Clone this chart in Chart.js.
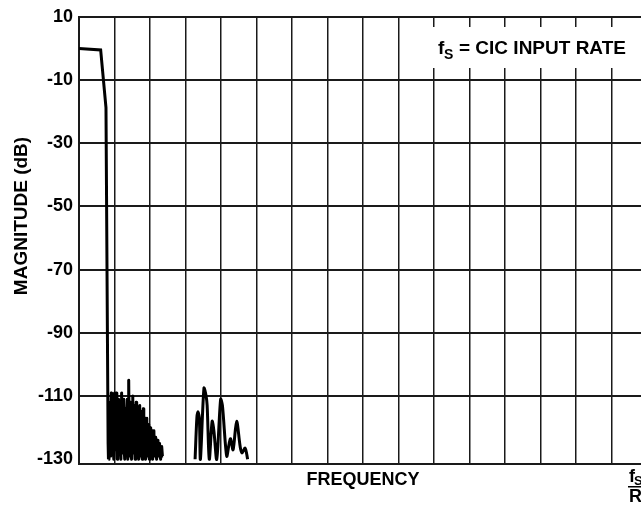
<!DOCTYPE html>
<html>
<head>
<meta charset="utf-8">
<title>CIC Filter Response</title>
<script src="https://cdn.jsdelivr.net/npm/chart.js@4.4.1/dist/chart.umd.min.js"></script>
<style>
    html, body { margin: 0; padding: 0; background: #fff; overflow: hidden; }
    #cicChart { display: block; }
</style>
</head>
<body>
<canvas id="cicChart" width="660" height="508"></canvas>
<script>
// ==================== Data ====================

// Frequency in grid divisions (0..16), magnitude in dB
const passbandFreq = [0.00, 0.61, 0.76, 0.82, 0.83];
const passbandMag = [0.0, -0.5, -18.7, -125, -130];

// First alias cluster (dense ripple just past the cutoff)
const alias1Freq = [
    0.830, 0.845, 0.860, 0.870, 0.880, 0.895, 0.910, 0.920, 0.930, 0.940,
    0.950, 0.965, 0.980, 0.990, 1.000, 1.015, 1.030, 1.040, 1.050, 1.065,
    1.080, 1.090, 1.100, 1.115, 1.130, 1.140, 1.150, 1.165, 1.180, 1.190,
    1.200, 1.215, 1.230, 1.245, 1.260, 1.270, 1.280, 1.295, 1.310, 1.320,
    1.330, 1.345, 1.360, 1.370, 1.380, 1.390, 1.400, 1.415, 1.430, 1.440,
    1.450, 1.465, 1.480, 1.495, 1.510, 1.520, 1.530, 1.545, 1.560, 1.570,
    1.580, 1.595, 1.610, 1.620, 1.630, 1.645, 1.660, 1.670, 1.680, 1.695,
    1.710, 1.720, 1.730, 1.745, 1.760, 1.770, 1.780, 1.795, 1.810, 1.820,
    1.830, 1.845, 1.860, 1.870, 1.880, 1.895, 1.910, 1.920, 1.930, 1.945,
    1.960, 1.970, 1.980, 1.995, 2.010, 2.020, 2.030, 2.045, 2.060, 2.070,
    2.080, 2.095, 2.110, 2.120, 2.130, 2.145, 2.160, 2.170, 2.180, 2.195,
    2.210, 2.225, 2.240, 2.255, 2.270, 2.285, 2.300, 2.315, 2.330, 2.350, 2.370];
const alias1Mag = [
    -130, -118, -112, -127, -129, -113, -109, -125, -128, -114,
    -110, -126, -130, -115, -109, -126, -127, -113, -109, -125,
    -130, -116, -111, -122, -124, -115, -112, -127, -130, -114,
    -109, -125, -128, -116, -111, -126, -130, -118, -114, -125,
    -129, -115, -111, -127, -130, -112, -105, -124, -129, -116,
    -112, -127, -130, -115, -110, -126, -128, -117, -113, -127,
    -130, -116, -112, -126, -129, -118, -114, -127, -130, -117,
    -113, -126, -129, -119, -115, -127, -130, -118, -114, -126,
    -129, -121, -117, -127, -130, -121, -117, -127, -129, -122,
    -119, -127, -130, -123, -120, -127, -129, -124, -121, -128,
    -130, -124, -121, -128, -129, -125, -123, -128, -130, -126,
    -124, -128, -129, -127, -125, -129, -130, -127, -126, -129, -129];

// Second alias cluster
const alias2Freq = [3.27, 3.32, 3.35, 3.39, 3.42, 3.52, 3.58, 3.61, 3.67, 3.75,
    3.80, 3.88, 3.99, 4.04, 4.16, 4.23, 4.27, 4.34, 4.44, 4.54,
    4.59, 4.68, 4.75];
const alias2Mag = [-130, -117, -115, -117, -130, -107.5, -110, -113, -130, -118,
    -121, -130, -111, -113, -129, -125, -123.5, -127, -118, -126,
    -128, -126.5, -130];

const yTicks = [10, -10, -30, -50, -70, -90, -110, -130];
const xDivisions = 16;

// ==================== Helpers ====================

function toPoints(xs, ys) {
    return xs.map((x, i) => ({ x: x, y: ys[i] }));
}

const FONT = '"Liberation Sans", Arial, Helvetica, sans-serif';
const GRID_COLOR = '#1a1a1a';

// Extra text drawn on top of the chart: y title, note box, fs/R label
const annotationPlugin = {
    id: 'annotations',
    beforeDatasetsDraw(chart) {
        const ctx = chart.ctx;
        // white box behind the note, cutting the grid lines
        ctx.save();
        ctx.fillStyle = '#fff';
        ctx.fillRect(421, 27, 210, 41);
        ctx.restore();
    },
    afterDraw(chart) {
        const ctx = chart.ctx;
        ctx.save();
        ctx.fillStyle = '#000';

        // y axis title
        ctx.save();
        ctx.translate(22, 216);
        ctx.rotate(-Math.PI / 2);
        ctx.font = 'bold 19px ' + FONT;
        ctx.textAlign = 'center';
        ctx.textBaseline = 'middle';
        ctx.fillText('MAGNITUDE (dB)', 0, 0);
        ctx.restore();

        // note: fS = CIC INPUT RATE
        ctx.textBaseline = 'alphabetic';
        ctx.textAlign = 'left';
        ctx.font = 'bold 19px ' + FONT;
        ctx.fillText('f', 438, 54);
        ctx.font = 'bold 14px ' + FONT;
        ctx.fillText('S', 444, 59);
        ctx.font = 'bold 19px ' + FONT;
        ctx.fillText('= CIC INPUT RATE', 459, 54);

        // fS / R label under the last division
        ctx.font = 'bold 18px ' + FONT;
        ctx.fillText('f', 629, 482);
        ctx.font = 'bold 13px ' + FONT;
        ctx.fillText('S', 634, 485);
        ctx.fillRect(628, 486, 30, 1.5);
        ctx.font = 'bold 18px ' + FONT;
        ctx.fillText('R', 629, 502);

        ctx.restore();
    }
};

// ==================== Chart ====================

document.addEventListener('DOMContentLoaded', function () {
    const canvas = document.getElementById('cicChart');

    new Chart(canvas, {
        type: 'line',
        data: {
            datasets: [{
                // passband and transition band
                data: toPoints(passbandFreq, passbandMag),
                borderColor: '#000',
                borderWidth: 3,
                pointRadius: 0,
                tension: 0,
                fill: false
            }, {
                // first alias cluster, dense ripple
                data: toPoints(alias1Freq, alias1Mag),
                borderColor: '#000',
                borderWidth: 3,
                borderJoinStyle: 'round',
                pointRadius: 0,
                tension: 0,
                fill: false
            }, {
                // second alias cluster, smoother lobes
                data: toPoints(alias2Freq, alias2Mag),
                borderColor: '#000',
                borderWidth: 3,
                borderJoinStyle: 'round',
                pointRadius: 0,
                tension: 0.3,
                fill: false
            }]
        },
        options: {
            responsive: false,
            animation: false,
            layout: { padding: { top: 16, right: 13, left: 0, bottom: 0 } },
            plugins: {
                legend: { display: false },
                tooltip: { enabled: false }
            },
            scales: {
                x: {
                    type: 'linear',
                    min: 0,
                    max: xDivisions,
                    ticks: { display: false, stepSize: 1 },
                    grid: { color: GRID_COLOR, lineWidth: 1.5, drawTicks: false },
                    border: { color: GRID_COLOR, width: 2 },
                    title: {
                        display: true,
                        text: 'FREQUENCY',
                        color: '#000',
                        font: { family: FONT, size: 18, weight: 'bold' },
                        padding: { top: 0, bottom: 17 }
                    },
                    afterFit(scale) { scale.height = 44; }
                },
                y: {
                    min: -131.5,
                    max: 10,
                    afterBuildTicks(scale) {
                        scale.ticks = yTicks.map(v => ({ value: v }));
                    },
                    ticks: {
                        color: '#000',
                        padding: 6,
                        font: { family: FONT, size: 18, weight: 'bold' }
                    },
                    grid: {
                        color: ctx => (ctx.tick && ctx.tick.value === -130) ? 'rgba(0,0,0,0)' : GRID_COLOR,
                        lineWidth: 2,
                        drawTicks: false
                    },
                    border: { color: GRID_COLOR, width: 2 },
                    afterFit(scale) { scale.width = 79; }
                }
            }
        },
        plugins: [annotationPlugin]
    });
});
</script>
</body>
</html>
